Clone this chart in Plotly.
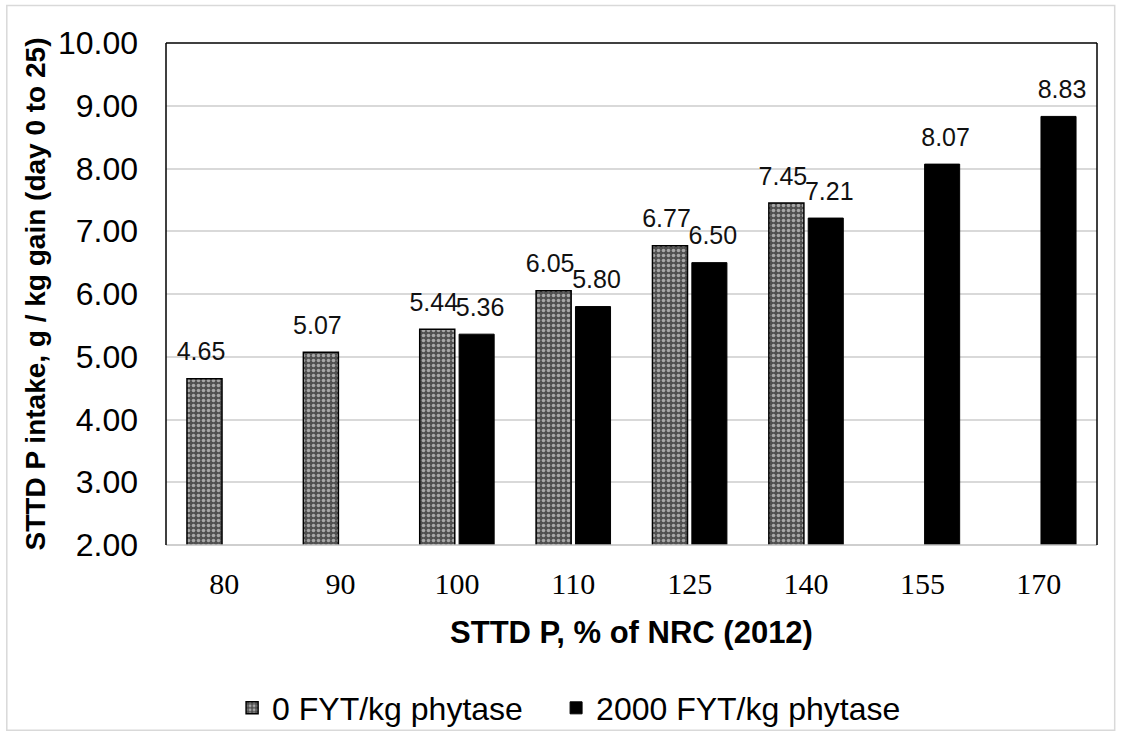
import plotly.graph_objects as go

categories = ["80", "90", "100", "110", "125", "140", "155", "170"]
phy0 = [4.65, 5.07, 5.44, 6.05, 6.77, 7.45, None, None]
phy2000 = [None, None, 5.36, 5.80, 6.50, 7.21, 8.07, 8.83]
series_names = ["0 FYT/kg phytase", "2000 FYT/kg phytase"]

GAP = 0.323
label_font = dict(family="Liberation Sans, Arial", size=25, color="#111")

fig = go.Figure()
fig.add_trace(go.Bar(
    x=categories, y=phy0, name=series_names[0], offsetgroup="a", legend="legend",
    marker=dict(color="#505050", line=dict(color="black", width=1.5),
                pattern=dict(shape=".", fgcolor="white", bgcolor="#505050", size=5, solidity=0.4)),
    hoverinfo="skip",
))
fig.add_trace(go.Bar(
    x=categories, y=phy2000, name=series_names[1], offsetgroup="b", legend="legend2",
    marker=dict(color="black", line=dict(color="black", width=1)),
    hoverinfo="skip",
))
# value labels, grouped like the bars
for vals, grp, fmt in [(phy0, "a", "{:.2f} "), (phy2000, "b", " {:.2f}")]:
    fig.add_trace(go.Scatter(
        x=categories, y=vals, offsetgroup=grp, orientation="v",
        mode="markers+text", marker=dict(size=18, opacity=0),
        text=["" if v is None else fmt.format(v) for v in vals],
        textposition="top center", textfont=label_font,
        showlegend=False, hoverinfo="skip", cliponaxis=False,
    ))

legend_common = dict(orientation="h", xanchor="left", y=-0.27, yanchor="top",
                     font=dict(size=32), itemwidth=30, bgcolor="rgba(0,0,0,0)")

fig.update_layout(
    width=1121, height=747,
    paper_bgcolor="white", plot_bgcolor="white",
    margin=dict(l=166, r=24, t=43, b=194),
    barmode="group", bargap=GAP, bargroupgap=0.11,
    scattermode="group", scattergap=GAP,
    font=dict(family="Liberation Sans, Arial", size=26, color="black"),
    xaxis=dict(
        type="category",
        tickfont=dict(family="Liberation Serif, Times New Roman", size=30, color="black"),
        title=dict(text="<b>STTD P, % of NRC (2012)</b>", font=dict(size=31), standoff=22),
        showgrid=False, showline=False, ticks="", ticklabelstandoff=18,
    ),
    yaxis=dict(
        range=[2, 10], dtick=1, tickformat=".2f",
        tickfont=dict(size=32, color="black"),
        title=dict(text="<b>STTD P intake, g / kg gain (day 0 to 25)</b>", font=dict(size=28), standoff=4),
        showgrid=True, gridcolor="#d9d9d9", gridwidth=1.5,
        showline=False, zeroline=False, ticks="", ticklabelstandoff=27,
    ),
    legend=dict(x=0.071, **legend_common),
    legend2=dict(x=0.419, **legend_common),
    shapes=[
        dict(type="line", xref="paper", yref="paper", x0=0, x1=1, y0=0, y1=0,
             line=dict(color="#bfbfbf", width=1.5)),
        dict(type="line", xref="paper", yref="paper", x0=0, x1=0, y0=0, y1=1,
             line=dict(color="black", width=1.5)),
        dict(type="line", xref="paper", yref="paper", x0=0, x1=1, y0=1, y1=1,
             line=dict(color="black", width=1.5)),
        dict(type="line", xref="paper", yref="paper", x0=1, x1=1, y0=0, y1=1,
             line=dict(color="black", width=1.5)),
        dict(type="rect", xref="paper", yref="paper",
             x0=-0.171, x1=1.019, y0=-0.369, y1=1.0745,
             line=dict(color="#d9d9d9", width=1.5), layer="below"),
    ],
)

fig.write_html("out.html")
